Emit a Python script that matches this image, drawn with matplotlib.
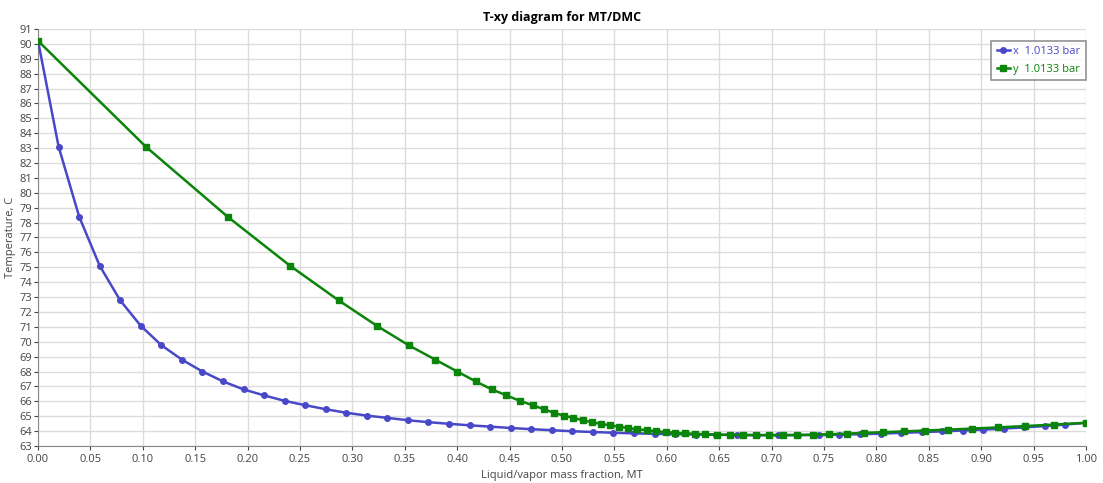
import numpy as np
import matplotlib
matplotlib.use('Agg')
import matplotlib.pyplot as plt

# temperaturak (C), kozos a ket gorbehez
T = [90.2, 83.1, 78.4, 75.1, 72.77, 71.07, 69.77, 68.8, 68.0, 67.34,
     66.8, 66.4, 66.03, 65.74, 65.47, 65.23, 65.04, 64.89, 64.73, 64.6,
     64.49, 64.39, 64.3, 64.21, 64.13, 64.06, 63.99, 63.94, 63.89, 63.85,
     63.82, 63.79, 63.77, 63.75, 63.74, 63.73, 63.73, 63.73, 63.74, 63.76,
     63.79, 63.83, 63.88, 63.93, 63.98, 64.04, 64.1, 64.17, 64.25, 64.34,
     64.44, 64.56]

# folyadek osszetetel (egyenletes lepes, 52 pont)
x_liq = [i / 51 for i in range(52)]

# gozosszetetel
y_vap = [0.0, 0.1028, 0.1808, 0.2405, 0.287, 0.3233, 0.3535, 0.379, 0.400, 0.4175,
         0.433, 0.447, 0.4598, 0.472, 0.4827, 0.4922, 0.5015, 0.5107, 0.5196, 0.5285,
         0.5368, 0.5457, 0.5543, 0.5629, 0.5717, 0.5807, 0.5896, 0.5988, 0.608, 0.6173,
         0.6268, 0.6366, 0.648, 0.660, 0.673, 0.685, 0.6977, 0.7105, 0.7245, 0.7397,
         0.755, 0.7716, 0.788, 0.8065, 0.826, 0.8467, 0.8683, 0.8912, 0.916, 0.9418,
         0.9695, 1.0]

plt.rcParams['font.family'] = ['Open Sans', 'DejaVu Sans']

blue = '#4848c8'
green = '#0a850a'

fig = plt.figure(figsize=(11.03, 4.83), dpi=100)
ax = fig.add_axes([0.0345, 0.0766, 0.9501, 0.8634])

ax.plot(x_liq, T, '-o', color=blue, lw=1.8, ms=4, label='x  1.0133 bar', zorder=3)
ax.plot(y_vap, T, '-s', color=green, lw=1.8, ms=4.5, label='y  1.0133 bar', zorder=4)

ax.set_xlim(0, 1)
ax.set_ylim(63, 91)
ax.set_xticks(np.arange(0, 1.001, 0.05))
ax.set_xticklabels(['%.2f' % v for v in np.arange(0, 1.001, 0.05)])
ax.set_yticks(np.arange(63, 92, 1))

ax.grid(True, color='#dcdcdc', lw=1)
ax.set_axisbelow(True)
for s in ['top', 'right']:
    ax.spines[s].set_visible(False)
for s in ['left', 'bottom']:
    ax.spines[s].set_color('#888888')
ax.tick_params(labelsize=8, colors='#444444', length=3, width=0.8)
ax.tick_params(axis='x', pad=3)
ax.tick_params(axis='y', pad=1)

ax.set_title('T-xy diagram for MT/DMC', fontsize=9, fontweight='bold', pad=6)
ax.set_xlabel('Liquid/vapor mass fraction, MT', fontsize=8, color='#444444', labelpad=3)
ax.set_ylabel('Temperature, C', fontsize=8, color='#444444', labelpad=3)

leg = ax.legend(loc='upper right', bbox_to_anchor=(1.0, 0.972), fontsize=8,
                frameon=True, fancybox=False, borderpad=0.5, handlelength=1.2,
                handletextpad=0.3, labelspacing=0.6, borderaxespad=0)
leg.get_frame().set_edgecolor('#777777')
leg.get_frame().set_linewidth(1.2)
for txt, c in zip(leg.get_texts(), [blue, green]):
    txt.set_color(c)

plt.savefig('out.png', dpi=100)
